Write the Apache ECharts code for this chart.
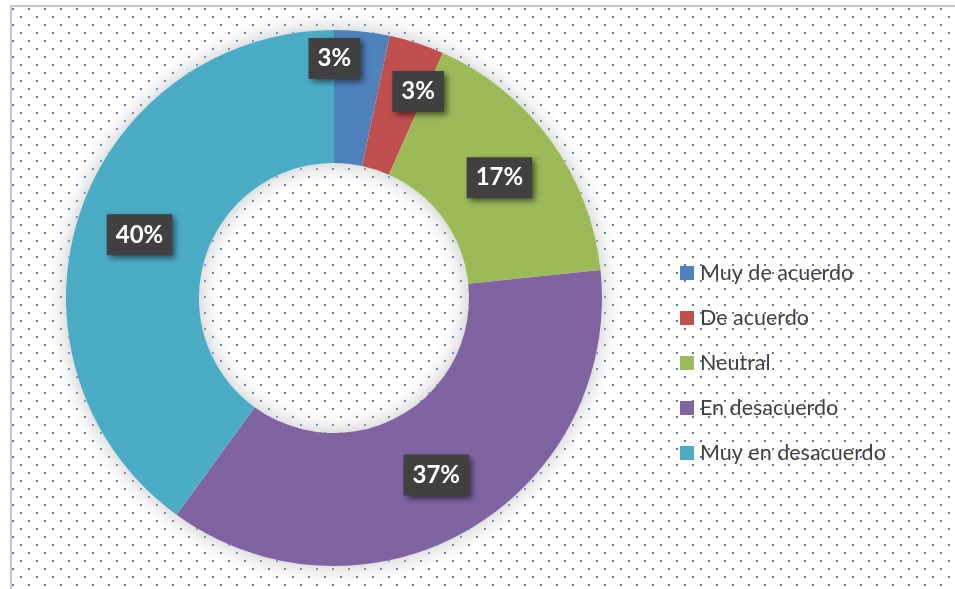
<!DOCTYPE html>
<html>
<head>
<meta charset="utf-8">
<script src="https://cdn.jsdelivr.net/npm/echarts@6/dist/echarts.min.js"></script>
<style>
html,body{margin:0;padding:0;background:#fff;}
#chart{width:955px;height:589px;}
</style>
</head>
<body>
<div id="chart"></div>
<script>
// ---- data ----
const categories = ['Muy de acuerdo', 'De acuerdo', 'Neutral', 'En desacuerdo', 'Muy en desacuerdo'];
const values = [3.33, 3.33, 16.67, 36.67, 40.0];

// ---- styles ----
const colors = ['#4f81bd', '#c0504d', '#9bbb59', '#8064a2', '#4bacc6'];
const labelOffsets = [[-21, -36], [21, -12], [0, 0], [0, 0], [0, 0]];

function dotPattern() {
  const c = document.createElement('canvas');
  c.width = 16; c.height = 16;
  const g = c.getContext('2d');
  g.fillStyle = '#ffffff';
  g.fillRect(0, 0, 16, 16);
  g.fillStyle = '#4a7ebb';
  g.fillRect(4, 0, 2, 2);
  g.fillRect(12, 8, 2, 2);
  return c;
}

const chart = echarts.init(document.getElementById('chart'), null, {renderer: 'canvas'});

const center = [334, 298];
const radius = [135, 268];

const option = {
  animation: false,
  backgroundColor: {image: dotPattern(), repeat: 'repeat'},
  graphic: [
    {type: 'rect', z: -1, shape: {x: 0, y: 0, width: 955, height: 5}, style: {fill: '#fff'}, silent: true},
    {type: 'rect', z: -1, shape: {x: 0, y: 0, width: 10, height: 589}, style: {fill: '#fff'}, silent: true},
    {type: 'polyline', z: -1, shape: {points: [[11, 589], [11, 6], [955, 6]]}, style: {stroke: '#c8c8c8', lineWidth: 2, fill: null}, silent: true}
  ],
  legend: {
    data: categories,
    orient: 'vertical',
    left: 675,
    top: 257,
    itemWidth: 14,
    itemHeight: 14,
    itemGap: 23,
    icon: 'rect',
    textStyle: {fontFamily: 'Lato', fontSize: 21.5, color: '#404040', lineHeight: 21, padding: [0, 0, 0, 1]},
    selectedMode: false
  },
  series: [
    {
      type: 'pie',
      silent: true,
      center: center,
      radius: radius,
      label: {show: false},
      labelLine: {show: false},
      emphasis: {disabled: true},
      itemStyle: {color: '#ffffff', shadowBlur: 22, shadowColor: 'rgba(195,195,195,1)'},
      data: [{value: 1, name: '_bg'}],
      z: 1
    },
    {
      type: 'pie',
      center: center,
      radius: radius,
      startAngle: 90,
      clockwise: true,
      avoidLabelOverlap: false,
      emphasis: {disabled: true},
      labelLine: {show: false},
      itemStyle: {borderWidth: 0},
      label: {
        show: true,
        position: 'inside',
        formatter: p => Math.round(p.percent) + '%',
        fontFamily: 'Lato',
        fontWeight: 'bold',
        fontSize: 24,
        lineHeight: 25,
        color: '#ffffff',
        backgroundColor: '#404040',
        padding: [8, 9],
        shadowColor: 'rgba(0,0,0,0.55)',
        shadowBlur: 6,
        shadowOffsetX: 3,
        shadowOffsetY: 3
      },
      data: categories.map((name, i) => ({
        name: name,
        value: values[i],
        itemStyle: {color: colors[i]},
        label: {offset: labelOffsets[i]}
      })),
      z: 2
    }
  ]
};
chart.setOption(option);
</script>
</body>
</html>
